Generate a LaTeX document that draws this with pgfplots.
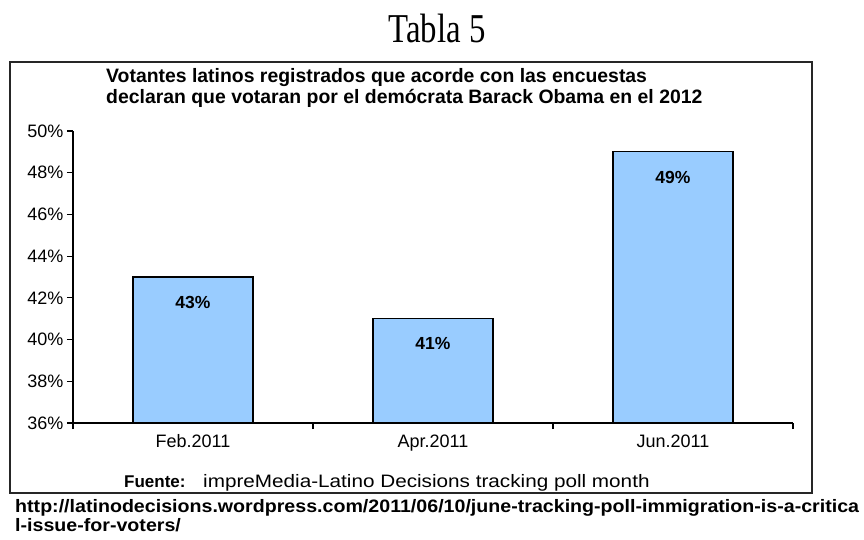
\documentclass[border=0pt]{standalone}
\usepackage{fontspec}
\setmainfont{Liberation Sans}
\newfontfamily\titlefont[FakeStretch=0.8]{Liberation Serif}
\usepackage{graphicx}
\usepackage{pgfplots}
\pgfplotsset{compat=1.18}
\definecolor{barblue}{HTML}{99CCFF}

\begin{document}
\begin{tikzpicture}
\path[use as bounding box] (0,0) rectangle (864bp,-540bp);

% titles and frame
\node[anchor=base, inner sep=0] at (437bp,-42bp) {\titlefont\fontsize{41bp}{41bp}\selectfont Tabla 5};
\draw[line width=1.5bp, black!85] (10bp,-62bp) rectangle (812bp,-493bp);
\node[anchor=base west, inner sep=0] at (106bp,-82bp)
  {\fontsize{19.4bp}{21bp}\selectfont\bfseries Votantes latinos registrados que acorde con las encuestas};
\node[anchor=base west, inner sep=0] at (106bp,-103bp)
  {\fontsize{19.4bp}{21bp}\selectfont\bfseries declaran que votaran por el demócrata Barack Obama en el 2012};

\begin{axis}[
  at={(73bp,-423bp)}, anchor=south west,
  scale only axis, width=720bp, height=292bp,
  xmin=-0.5, xmax=2.5, ymin=36, ymax=50,
  enlargelimits=false,
  axis lines*=left,
  axis line style={line width=1.2bp},
  tick style={line width=1.2bp, black},
  tick align=outside, major tick length=6bp,
  ytick={36,38,...,50},
  yticklabel={\pgfmathprintnumber{\tick}\%},
  xtick={-0.5,0.5,1.5,2.5}, xticklabels={},
  extra x ticks={0,1,2},
  extra x tick labels={Feb.2011,Apr.2011,Jun.2011},
  extra x tick style={major tick length=0pt, tick label style={yshift=-8bp}},
  ticklabel style={font=\fontsize{18bp}{20bp}\selectfont},
  /pgf/number format/assume math mode=true,
  ybar, bar width=120bp,
  nodes near coords={\pgfmathprintnumber{\pgfplotspointmeta}\%},
  nodes near coords style={anchor=north, yshift=-15bp, font=\fontsize{17.5bp}{18bp}\selectfont\bfseries},
]
\addplot[fill=barblue, draw=black, line width=1.2bp] coordinates {(0,43) (1,41) (2,49)};
\end{axis}

\node[anchor=base west, inner sep=0] at (124bp,-487bp) {\fontsize{17bp}{20bp}\selectfont\bfseries Fuente:};
\node[anchor=base west, inner sep=0] at (203bp,-487bp)
  {\scalebox{1.15}[1]{\fontsize{18bp}{20bp}\selectfont impreMedia-Latino Decisions tracking poll month}};

\node[anchor=base west, inner sep=0] at (15bp,-512bp)
  {\scalebox{1.09}[1]{\fontsize{18bp}{20bp}\selectfont\bfseries http://latinodecisions.wordpress.com/2011/06/10/june-tracking-poll-immigration-is-a-critica}};
\node[anchor=base west, inner sep=0] at (15bp,-531bp)
  {\scalebox{1.09}[1]{\fontsize{18bp}{20bp}\selectfont\bfseries l-issue-for-voters/}};
\end{tikzpicture}
\end{document}
